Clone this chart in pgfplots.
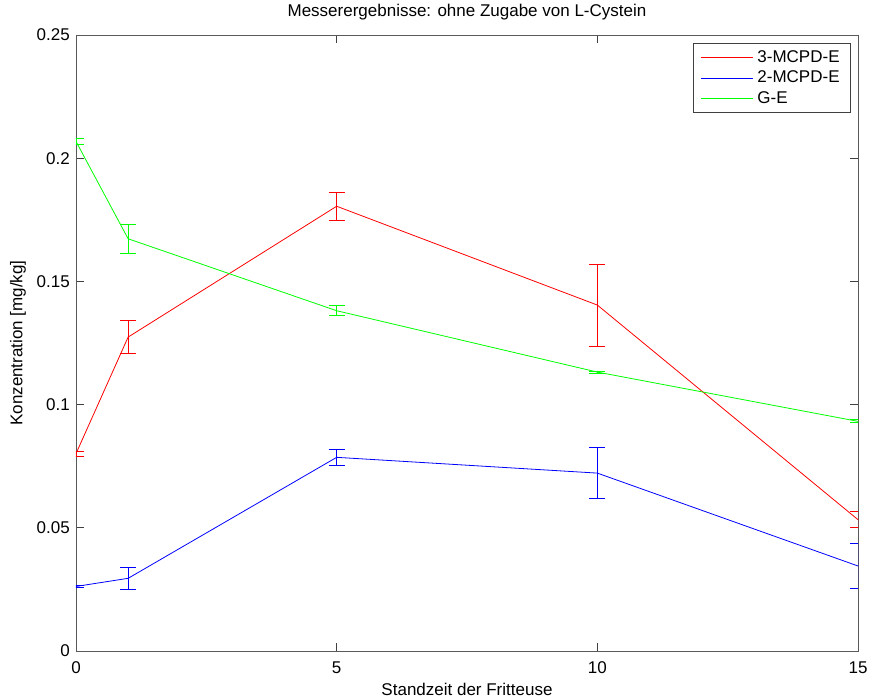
\documentclass[border=0pt]{standalone}
\usepackage{pgfplots}
\pgfplotsset{compat=1.18}
\usepackage{fontspec}
\setmainfont{Liberation Sans}
\definecolor{mred}{rgb}{1,0,0}
\definecolor{mblue}{rgb}{0,0,1}
\definecolor{mgreen}{rgb}{0,1,0}
\begin{document}
\fontsize{17}{20}\selectfont
\begin{tikzpicture}
\path[use as bounding box] (0,0) rectangle (870pt,697pt);
\begin{axis}[
  at={(76pt,46pt)}, anchor=south west,
  width=782pt, height=616pt, scale only axis,
  xmin=0, xmax=15, ymin=0, ymax=0.25,
  xtick={0,5,10,15}, ytick={0,0.05,0.1,0.15,0.2,0.25},
  yticklabels={0,0.05,0.1,0.15,0.2,0.25},
  xticklabels={0,5,10,15},
  tick align=inside, xtick pos=both, ytick pos=both,
  major tick length=8pt,
  axis line style={black!65, line width=0.8pt},
  every tick/.style={black!75, line width=0.8pt},
  /pgf/number format/assume math mode=true,
  xticklabel style={anchor=base, inner sep=0pt, yshift=-22pt},
  yticklabel style={anchor=east, inner sep=0pt, xshift=-6pt},
  title={Messerergebnisse: ohne Zugabe von L-Cystein},
  title style={at={(axis description cs:0.5,1)}, anchor=base, yshift=12pt, inner sep=0pt},
  xlabel={Standzeit der Fritteuse},
  xlabel style={at={(axis description cs:0.5,0)}, anchor=base, yshift=-44pt, inner sep=0pt},
  ylabel={Konzentration [mg/kg]},
  ylabel style={at={(axis description cs:0,0.5)}, anchor=center, yshift=58pt, inner sep=0pt},
  legend style={at={(1,1)}, anchor=north east, xshift=-7pt, yshift=-8pt,
    draw=black!75, line width=0.8pt, fill=white, font=\fontsize{17}{20}\selectfont,
    row sep=0pt, inner xsep=7pt, inner ysep=4pt,
    nodes={inner xsep=4pt, inner ysep=3pt}},
  legend cell align=left,
  legend image code/.code={\draw[#1, line width=0.9pt] (0pt,0pt) -- (52pt,0pt);},
  error bars/y dir=both, error bars/y explicit,
  error bars/error mark=-,
]
\addplot[mred, line width=0.8pt, mark=none, error bars/error bar style={draw=mred, line width=0.8pt}, error bars/error mark options={rotate=90, draw=mred, mark size=8pt, line width=0.8pt}]
  coordinates {(0,0.0801) +- (0,0.0011) (1,0.1274) +- (0,0.0067) (5,0.1805) +- (0,0.0057) (10,0.1404) +- (0,0.0166) (15,0.0533) +- (0,0.0033)};
\addlegendentry{3-MCPD-E}
\addplot[mblue, line width=0.8pt, mark=none, error bars/error bar style={draw=mblue, line width=0.8pt}, error bars/error mark options={rotate=90, draw=mblue, mark size=8pt, line width=0.8pt}]
  coordinates {(0,0.0262) +- (0,0.0005) (1,0.0295) +- (0,0.0043) (5,0.0786) +- (0,0.0031) (10,0.0722) +- (0,0.0103) (15,0.0345) +- (0,0.0090)};
\addlegendentry{2-MCPD-E}
\addplot[mgreen, line width=0.8pt, mark=none, error bars/error bar style={draw=mgreen, line width=0.8pt}, error bars/error mark options={rotate=90, draw=mgreen, mark size=8pt, line width=0.8pt}]
  coordinates {(0,0.2068) +- (0,0.0012) (1,0.1673) +- (0,0.0059) (5,0.1381) +- (0,0.0021) (10,0.1132) +- (0,0.0004) (15,0.0932) +- (0,0.0006)};
\addlegendentry{G-E}
\end{axis}
\end{tikzpicture}
\end{document}
